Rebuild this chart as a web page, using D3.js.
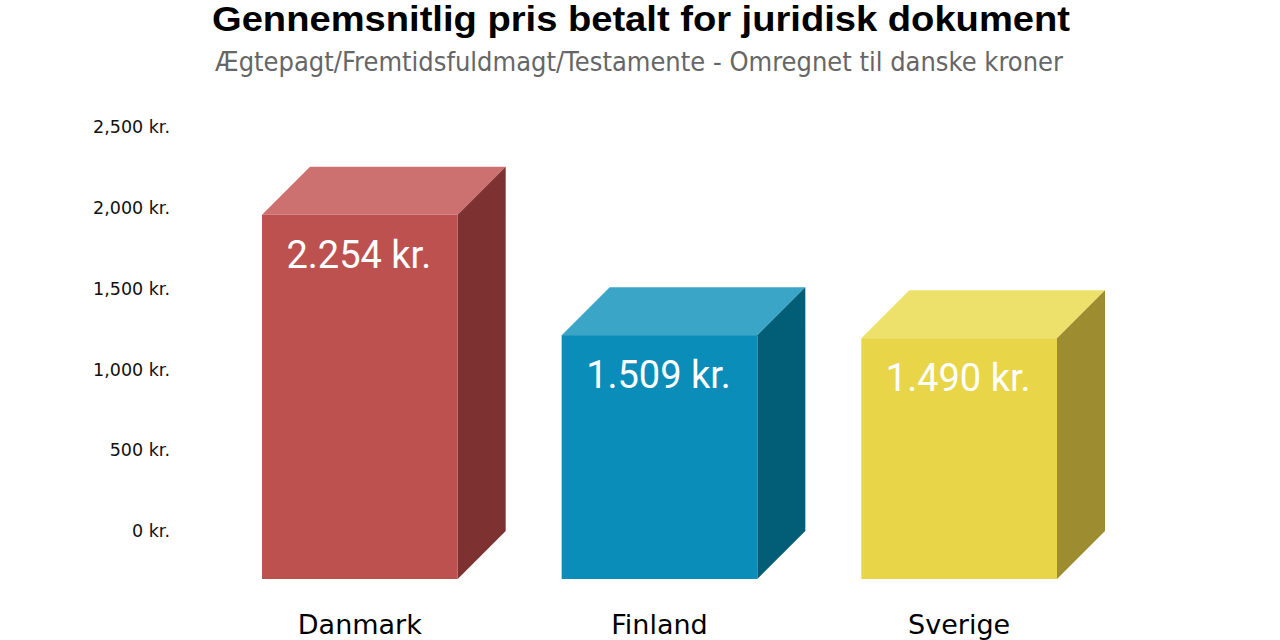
<!DOCTYPE html>
<html>
<head>
<meta charset="utf-8">
<script src="https://cdn.jsdelivr.net/npm/d3@7"></script>
<style>
  html, body { margin: 0; padding: 0; background: #fff; }
</style>
</head>
<body>
<div class="vis-chart"></div>
<script>
// data
const countries = ["Danmark", "Finland", "Sverige"];
const prices = [2254, 1509, 1490];
const priceLabels = ["2.254 kr.", "1.509 kr.", "1.490 kr."];
const yTicks = [0, 500, 1000, 1500, 2000, 2500];
const titleText = "Gennemsnitlig pris betalt for juridisk dokument";
const subtitleText = "Ægtepagt/Fremtidsfuldmagt/Testamente - Omregnet til danske kroner";

const config = {
    "front": ["#bc5150", "#0b8db9", "#e8d548"],
    "top":   ["#cc716f", "#3aa5c6", "#ede16b"],
    "side":  ["#7d3231", "#025e77", "#9d8d30"],
    "tick-color": "#111",
    "subtitle-color": "#666"
}

const width = 1280, height = 640;
const depth = 48; // 3d offset of the front face

let svg = d3.select(".vis-chart")
    .append("svg")
    .attr("width", width)
    .attr("height", height);

// scales work on the back face, front face is shifted down/left by depth
let x = d3.scaleBand()
    .domain(countries)
    .range([310, 1105])
    .paddingInner(0.347)
    .paddingOuter(0);

let y = d3.scaleLinear()
    .domain([0, 2500])
    .range([531, 127]);

// title
let title = svg.append("text")
    .attr("x", 641)
    .attr("y", 31)
    .attr("text-anchor", "middle")
    .style("font-family", "'Liberation Sans', Arial, sans-serif")
    .style("font-weight", "bold")
    .style("font-size", "35px")
    .attr("fill", "#000")
    .text(titleText);
title.attr("textLength", 858).attr("lengthAdjust", "spacingAndGlyphs");

let subtitle = svg.append("text")
    .attr("x", 639)
    .attr("y", 71)
    .attr("text-anchor", "middle")
    .style("font-family", "'DejaVu Sans', sans-serif")
    .style("font-size", "27px")
    .attr("fill", config["subtitle-color"])
    .text(subtitleText);
subtitle.attr("textLength", 848).attr("lengthAdjust", "spacingAndGlyphs");

// y axis, labels only
let yAxis = d3.axisLeft(y)
    .tickValues(yTicks)
    .tickSize(0)
    .tickPadding(0)
    .tickFormat(d => d3.format(",")(d) + " kr.");

let yg = svg.append("g")
    .attr("transform", "translate(170,0)")
    .call(yAxis);
yg.select(".domain").remove();
yg.selectAll("text")
    .style("font-family", "'DejaVu Sans', sans-serif")
    .style("font-size", "17.5px")
    .attr("fill", config["tick-color"]);

// bars
let bars = svg.append("g")
    .selectAll("g.bar")
    .data(countries)
    .enter()
    .append("g")
    .attr("class", "bar");

const front = (d, i) => {
    let x0 = x(d) - depth, x1 = x0 + x.bandwidth();
    let y0 = y(prices[i]) + depth, y1 = y(0) + depth;
    return {x0, x1, y0, y1};
};

// top face
bars.append("path")
    .attr("fill", (d, i) => config["top"][i])
    .attr("d", (d, i) => {
        let f = front(d, i);
        return `M${f.x0},${f.y0}L${f.x0 + depth},${f.y0 - depth}L${f.x1 + depth},${f.y0 - depth}L${f.x1},${f.y0}Z`;
    });

// side face
bars.append("path")
    .attr("fill", (d, i) => config["side"][i])
    .attr("d", (d, i) => {
        let f = front(d, i);
        return `M${f.x1},${f.y0}L${f.x1 + depth},${f.y0 - depth}L${f.x1 + depth},${f.y1 - depth}L${f.x1},${f.y1}Z`;
    });

// front face
bars.append("rect")
    .attr("fill", (d, i) => config["front"][i])
    .attr("x", (d, i) => front(d, i).x0)
    .attr("y", (d, i) => front(d, i).y0)
    .attr("width", x.bandwidth())
    .attr("height", (d, i) => front(d, i).y1 - front(d, i).y0);

// value labels
bars.append("text")
    .attr("x", (d, i) => front(d, i).x0 + x.bandwidth() / 2 - 1)
    .attr("y", (d, i) => front(d, i).y0 + 53)
    .attr("text-anchor", "middle")
    .attr("fill", "#fff")
    .style("font-family", "Roboto, sans-serif")
    .style("font-size", "38px")
    .text((d, i) => priceLabels[i]);

// category labels, centred under the front faces
let xAxis = d3.axisBottom(x).tickSize(0).tickPadding(0);
let xg = svg.append("g")
    .attr("transform", `translate(${-depth}, 614)`)
    .call(xAxis);
xg.select(".domain").remove();
xg.selectAll("text")
    .attr("dy", "0.75em")
    .style("font-family", "'DejaVu Sans', sans-serif")
    .style("font-size", "27px")
    .attr("fill", "#000");
</script>
</body>
</html>
